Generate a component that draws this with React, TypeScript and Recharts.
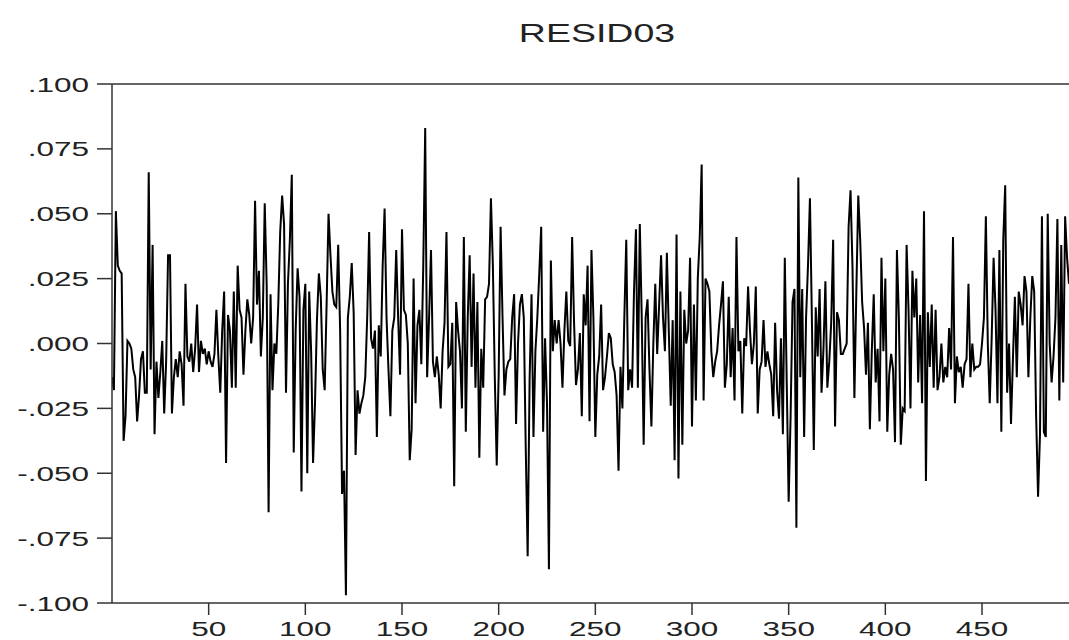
import React from 'react';
import { LineChart, Line, XAxis, YAxis, ReferenceLine } from 'recharts';

const residA = [
  -0.013, -0.018, 0.051, 0.030, 0.028, 0.027, -0.0375, -0.028, 0.001, 0.000,
  -0.002, -0.010, -0.013, -0.030, -0.020, -0.006, -0.003, -0.019, -0.019, 0.066,
  -0.010, 0.038, -0.035, -0.007, -0.021, -0.011, 0.001, -0.027, -0.007, 0.034,
  0.034, -0.027, -0.013, -0.006, -0.013, -0.003, -0.008, -0.024, 0.023, -0.005,
  -0.007, 0.000, -0.011, -0.002, 0.015, -0.011, 0.001, -0.004, -0.002, -0.008,
  -0.003, -0.007, -0.009, -0.004, 0.013, -0.005, -0.019, 0.005, 0.020, -0.046,
  0.011, 0.005, -0.017, 0.020, -0.017, 0.030, 0.013, 0.010, -0.012, 0.005,
  0.017, 0.011, 0.000, 0.010, 0.055, 0.015, 0.028, -0.005, 0.010, 0.054,
  0.023, -0.065, 0.019, -0.018, 0.000, -0.004, 0.015, 0.043, 0.057, 0.046,
  -0.019, 0.023, 0.040, 0.065, -0.042, 0.005, 0.029, 0.018, -0.057, 0.013,
];
const residB = [
  0.023, -0.050, 0.020, -0.003, -0.046, -0.023, 0.009, 0.027, 0.018, -0.010,
  -0.018, 0.015, 0.050, 0.034, 0.020, 0.015, 0.014, 0.038, 0.005, -0.058,
  -0.049, -0.097, 0.010, 0.018, 0.031, 0.012, -0.043, -0.018, -0.027, -0.023,
  -0.020, -0.013, 0.010, 0.043, 0.002, -0.002, 0.005, -0.036, 0.007, -0.005,
  0.030, 0.052, 0.010, -0.010, -0.028, 0.005, 0.010, 0.036, 0.010, -0.012,
  0.044, 0.013, 0.011, 0.000, -0.045, -0.033, 0.025, -0.023, 0.007, 0.013,
  -0.008, 0.030, 0.083, -0.013, 0.010, 0.036, -0.007, -0.013, -0.005, -0.012,
  -0.025, -0.003, 0.008, 0.043, -0.009, -0.008, 0.008, -0.055, 0.016, 0.005,
  -0.003, -0.025, 0.041, -0.034, 0.010, 0.034, -0.009, 0.027, -0.017, 0.016,
  -0.044, -0.002, -0.017, 0.017, 0.018, 0.023, 0.056, 0.030, -0.013, -0.047,
];
const residC = [
  -0.012, 0.045, 0.010, -0.020, -0.010, -0.007, -0.006, 0.010, 0.019, -0.031,
  0.000, 0.015, 0.019, 0.010, -0.040, -0.082, -0.014, 0.019, -0.036, -0.003,
  0.010, 0.027, 0.045, -0.034, 0.002, -0.023, -0.087, 0.032, -0.003, 0.009,
  0.000, 0.009, 0.000, -0.017, 0.005, 0.020, 0.001, -0.001, 0.041, 0.008,
  -0.016, -0.010, 0.004, -0.028, 0.019, 0.007, 0.030, -0.030, 0.036, 0.010,
  -0.036, -0.012, -0.005, 0.015, -0.018, -0.013, -0.005, 0.004, 0.002, -0.008,
  -0.011, -0.020, -0.049, -0.009, -0.025, 0.010, 0.040, -0.018, -0.010, -0.017,
  0.020, 0.044, -0.017, 0.046, 0.010, -0.039, 0.010, 0.017, -0.010, -0.032,
  0.000, 0.023, -0.004, 0.015, 0.034, 0.010, -0.003, 0.035, 0.005, -0.024,
  0.009, -0.045, 0.042, -0.052, 0.020, -0.039, 0.013, 0.000, 0.005, 0.033,
];
const residD = [
  -0.032, 0.015, -0.022, 0.025, 0.041, 0.069, -0.022, 0.025, 0.023, 0.020,
  -0.003, -0.013, -0.007, -0.003, 0.007, 0.015, 0.024, -0.017, -0.008, 0.018,
  -0.013, 0.006, -0.022, 0.041, -0.003, 0.001, -0.027, 0.002, -0.001, 0.022,
  0.005, -0.008, 0.000, 0.022, -0.027, -0.010, -0.007, 0.009, -0.009, -0.003,
  -0.008, -0.012, -0.028, 0.008, -0.018, -0.029, 0.002, -0.035, 0.033, -0.015,
  -0.061, -0.028, 0.016, 0.021, -0.071, 0.064, -0.013, 0.021, -0.036, 0.010,
  0.030, 0.056, 0.010, -0.041, 0.014, -0.005, 0.021, -0.019, -0.002, 0.024,
  -0.017, -0.007, 0.008, 0.040, -0.032, 0.012, 0.009, -0.004, -0.004, -0.002,
  0.000, 0.045, 0.059, 0.030, -0.021, 0.020, 0.057, 0.040, 0.016, 0.006,
  -0.012, 0.008, -0.033, -0.003, 0.019, -0.015, -0.002, -0.030, 0.033, -0.003,
];
const residE = [
  0.025, -0.034, -0.012, -0.004, -0.010, -0.038, 0.036, 0.010, -0.039, -0.025,
  -0.026, 0.038, 0.013, -0.025, 0.028, 0.010, 0.025, -0.015, 0.011, -0.023,
  0.051, -0.053, 0.012, -0.009, 0.015, -0.017, 0.013, -0.018, -0.013, 0.000,
  -0.015, -0.009, -0.013, 0.006, -0.010, 0.041, -0.023, -0.005, -0.011, -0.009,
  -0.017, -0.008, -0.006, 0.023, -0.013, 0.000, -0.010, -0.009, -0.009, -0.008,
  0.000, 0.010, 0.049, 0.000, -0.023, 0.002, 0.033, 0.013, -0.023, 0.036,
  -0.034, 0.040, 0.061, -0.019, 0.000, -0.031, -0.006, 0.018, -0.013, 0.020,
  0.015, 0.007, 0.026, 0.020, -0.013, 0.010, 0.026, 0.020, -0.028, -0.059,
  -0.035, 0.049, -0.034, -0.036, 0.050, 0.000, -0.015, -0.005, 0.010, 0.048,
  -0.022, 0.038, -0.015, 0.049, 0.033, 0.023,
];

const yTicks = [-0.1, -0.075, -0.05, -0.025, 0, 0.025, 0.05, 0.075, 0.1];
const xTicks = [50, 100, 150, 200, 250, 300, 350, 400, 450];
const title = 'RESID03';

const allResid = [...residA, ...residB, ...residC, ...residD, ...residE];
const data = allResid.map((v, i) => ({ obs: i, resid: v }));

const FONT = '"Liberation Sans", Arial, Helvetica, sans-serif';
const SX = 1.5;
const FS = 21;
const AXIS = '#333333';

const fmt = (v: number) => {
  const s = Math.abs(v).toFixed(3).replace(/^0/, '');
  return (v < -1e-9 ? '-' : '') + s;
};

const YTick = (props: any) => {
  const { x, y, payload } = props;
  return (
    <text
      transform={`translate(${x},${y}) scale(${SX},1)`}
      textAnchor="end"
      dy="0.36em"
      fontFamily={FONT}
      fontSize={FS}
      fill="#222"
    >
      {fmt(payload.value)}
    </text>
  );
};

const XTick = (props: any) => {
  const { x, y, payload } = props;
  return (
    <text
      transform={`translate(${x},${y}) scale(${SX},1)`}
      textAnchor="middle"
      dy="0.71em"
      fontFamily={FONT}
      fontSize={FS}
      fill="#222"
    >
      {payload.value}
    </text>
  );
};

export default function App() {
  return (
    <div style={{ position: 'absolute', left: 0, top: 0, width: 1069, height: 640, overflow: 'hidden', background: '#fff' }}>
      <svg width={1069} height={60} style={{ position: 'absolute', left: 0, top: 0 }}>
        <text
          transform={`translate(597,42) scale(${SX},1)`}
          textAnchor="middle"
          fontFamily={FONT}
          fontSize={25}
          fill="#222"
        >
          {title}
        </text>
      </svg>
      <div style={{ position: 'absolute', left: 0, top: 0 }}>
        <LineChart
          width={1069}
          height={640}
          data={data}
          margin={{ top: 84, right: 0, bottom: 0, left: 0 }}
        >
          <XAxis
            dataKey="obs"
            type="number"
            domain={[0, 495]}
            ticks={xTicks}
            allowDataOverflow
            height={37}
            tickSize={12}
            tickMargin={6}
            tick={<XTick />}
            axisLine={{ stroke: AXIS, strokeWidth: 1.5 }}
            tickLine={{ stroke: AXIS, strokeWidth: 1.5 }}
          />
          <YAxis
            type="number"
            domain={[-0.1, 0.1]}
            ticks={yTicks}
            allowDataOverflow
            width={112}
            tickSize={15}
            tickMargin={8}
            tick={<YTick />}
            axisLine={{ stroke: AXIS, strokeWidth: 1.5 }}
            tickLine={{ stroke: AXIS, strokeWidth: 1.5 }}
          />
          <ReferenceLine y={0.1} stroke={AXIS} strokeWidth={1.5} ifOverflow="visible" />
          <Line
            type="linear"
            dataKey="resid"
            stroke="#000"
            strokeWidth={2}
            dot={false}
            isAnimationActive={false}
          />
        </LineChart>
      </div>
    </div>
  );
}
